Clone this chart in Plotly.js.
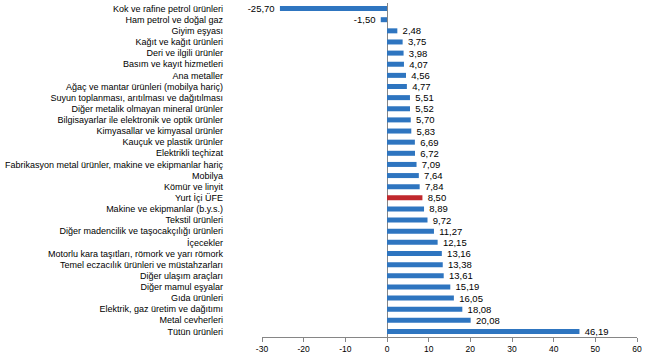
<!DOCTYPE html>
<html>
<head>
<meta charset="utf-8">
<script src="https://cdn.plot.ly/plotly-3.0.1.min.js"></script>
<style>html,body{margin:0;padding:0;background:#fff;}#chart{width:650px;height:360px;}</style>
</head>
<body>
<div id="chart"></div>
<script>
const categories = [
  "Kok ve rafine petrol ürünleri",
  "Ham petrol ve doğal gaz",
  "Giyim eşyası",
  "Kağıt ve kağıt ürünleri",
  "Deri ve ilgili ürünler",
  "Basım ve kayıt hizmetleri",
  "Ana metaller",
  "Ağaç ve mantar ürünleri (mobilya hariç)",
  "Suyun toplanması, arıtılması ve dağıtılması",
  "Diğer metalik olmayan mineral ürünler",
  "Bilgisayarlar ile elektronik ve optik ürünler",
  "Kimyasallar ve kimyasal ürünler",
  "Kauçuk ve plastik ürünler",
  "Elektrikli teçhizat",
  "Fabrikasyon metal ürünler, makine ve ekipmanlar hariç",
  "Mobilya",
  "Kömür ve linyit",
  "Yurt İçi ÜFE",
  "Makine ve ekipmanlar (b.y.s.)",
  "Tekstil ürünleri",
  "Diğer madencilik ve taşocakçılığı ürünleri",
  "İçecekler",
  "Motorlu kara taşıtları, römork ve yarı römork",
  "Temel eczacılık ürünleri ve müstahzarları",
  "Diğer ulaşım araçları",
  "Diğer mamul eşyalar",
  "Gıda ürünleri",
  "Elektrik, gaz üretim ve dağıtımı",
  "Metal cevherleri",
  "Tütün ürünleri"
];
const values = [-25.70, -1.50, 2.48, 3.75, 3.98, 4.07, 4.56, 4.77, 5.51, 5.52, 5.70, 5.83, 6.69, 6.72, 7.09, 7.64, 7.84, 8.50, 8.89, 9.72, 11.27, 12.15, 13.16, 13.38, 13.61, 15.19, 16.05, 18.08, 20.08, 46.19];
const highlight = "Yurt İçi ÜFE";
const xTicks = [-30, -20, -10, 0, 10, 20, 30, 40, 50, 60];

const pad = '\u00A0\u00A0';
const labels = values.map(v => {
  const s = v.toFixed(2).replace('.', ',');
  return v < 0 ? s + pad : pad + s;
});
const colors = categories.map(c => c === highlight ? '#C0282D' : '#2E75C0');

const trace = {
  type: 'bar',
  orientation: 'h',
  x: values,
  y: categories,
  text: labels,
  textposition: 'outside',
  constraintext: 'none',
  cliponaxis: false,
  textfont: {family: 'Liberation Sans, Arial, sans-serif', size: 9.5, color: '#000'},
  marker: {color: colors, line: {width: 0}},
  hoverinfo: 'x+y'
};

const layout = {
  width: 650, height: 360,
  margin: {l: 262, r: 13, t: 3, b: 23},
  paper_bgcolor: '#fff', plot_bgcolor: '#fff',
  showlegend: false,
  bargap: 0.55,
  font: {family: 'Liberation Sans, Arial, sans-serif', color: '#000'},
  xaxis: {
    range: [-30, 60],
    tickvals: xTicks,
    ticktext: xTicks.map(String),
    showgrid: false,
    zeroline: true, zerolinecolor: '#868686', zerolinewidth: 1,
    showline: true, linecolor: '#868686', linewidth: 1,
    ticks: 'outside', ticklen: 4, tickcolor: '#868686',
    tickfont: {size: 8.5, color: '#000'},
    fixedrange: true
  },
  yaxis: {
    type: 'category',
    autorange: 'reversed',
    showgrid: false, zeroline: false, showline: false,
    ticks: '',
    ticklabelstandoff: 38,
    tickfont: {size: 9, color: '#000'},
    fixedrange: true
  }
};

Plotly.newPlot('chart', [trace], layout, {displayModeBar: false, staticPlot: true});
</script>
</body>
</html>
